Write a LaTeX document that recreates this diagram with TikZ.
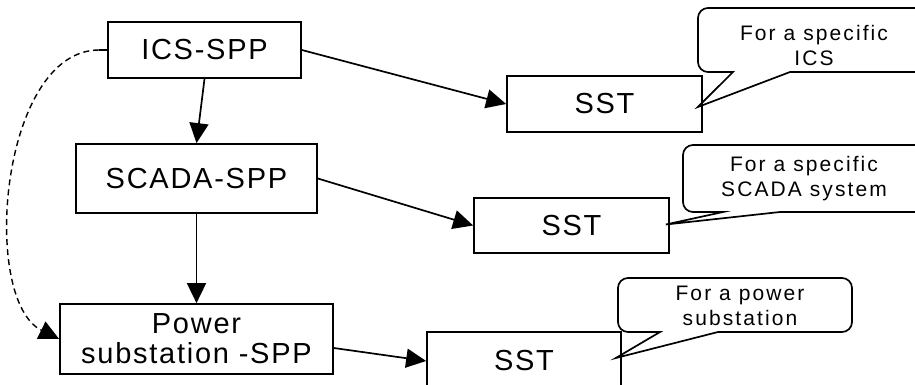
\documentclass[tikz,border=0pt]{standalone}
\usepackage{fontspec}
\setmainfont{Liberation Sans}
\newfontfamily\boxfont[LetterSpace=6]{Liberation Sans}
\newfontfamily\callfont[LetterSpace=10]{Liberation Sans}
\usetikzlibrary{arrows.meta}
\begin{document}
\begin{tikzpicture}[x=1pt,y=-1pt,
  box/.style={draw, line width=1.7pt, rectangle, inner sep=0pt, align=center,
    font=\boxfont\fontsize{29}{30}\selectfont},
  conn/.style={line width=1.7pt, -{Triangle[length=20pt,width=19pt]}},
  dconn/.style={line width=1.4pt, dash pattern=on 6pt off 4pt, -{Triangle[length=20pt,width=19pt]}},
  callout/.style={draw, line width=1.7pt},
  calltext/.style={align=center, inner sep=0pt, font=\callfont\fontsize{21}{25}\selectfont}]
\useasboundingbox (0,0) rectangle (915,385);
\clip (0,0) rectangle (915,385);
% boxes
\node[box, minimum width=193pt, minimum height=56pt] (ics) at (204.5,50) {ICS-SPP};
\node[box, minimum width=241pt, minimum height=69pt] (scada) at (196.5,178.5) {SCADA-SPP};
\node[box, minimum width=273pt, minimum height=70pt] (power) at (196.5,339) {Power\\substation -SPP};
\node[box, minimum width=195pt, minimum height=56pt] (sst1) at (604.5,104) {SST};
\node[box, minimum width=195pt, minimum height=55pt] (sst2) at (571.5,225.5) {SST};
\node[box, minimum width=194pt, minimum height=58pt] (sst3) at (524,361) {SST};
% connectors
\draw[conn] (ics.east) -- (sst1.west);
\draw[conn] (ics.south) -- (scada.north);
\draw[conn] (scada.east) -- (sst2.west);
\draw[conn] (scada.south) -- (scada.south |- power.north);
\draw[conn] ([yshift=-9pt]power.east) -- (sst3.west);
\coordinate (dstart) at ([xshift=-8pt]ics.west);
\draw[line width=1.7pt] (ics.west) -- (dstart);
\draw[dconn] (dstart) .. controls (0,50) and (-20,300) .. (power.west);
% callouts
\coordinate (t1) at ([shift={(-5,3)}]sst1.east);
\coordinate (t2) at ([shift={(-4,-1)}]sst2.east);
\coordinate (t3) at ([shift={(-6,-3)}]sst3.east);
\draw[callout] (733,72) -- (t1) -- (790,72) -- (800,72) [rounded corners=10pt] -- (930,72) -- (930,8) -- (698,8) -- (698,72) -- (723,72) [sharp corners] -- cycle;
\node[calltext] (c1) at (814,45) {For a specific\\ICS};
\draw[callout] (723,212) -- (t2) -- (780,212) -- (790,212) [rounded corners=10pt] -- (930,212) -- (930,145) -- (683,145) -- (683,212) -- (713,212) [sharp corners] -- cycle;
\node[calltext] (c2) at (804,179) {For a specific\\SCADA system};
\draw[callout] (660,332) -- (t3) -- (718,332) -- (728,332) [rounded corners=10pt] -- (852,332) -- (852,278) -- (618,278) -- (618,332) -- (650,332) [sharp corners] -- cycle;
\node[calltext] (c3) at (740,306) {For a power\\substation};
\end{tikzpicture}
\end{document}
